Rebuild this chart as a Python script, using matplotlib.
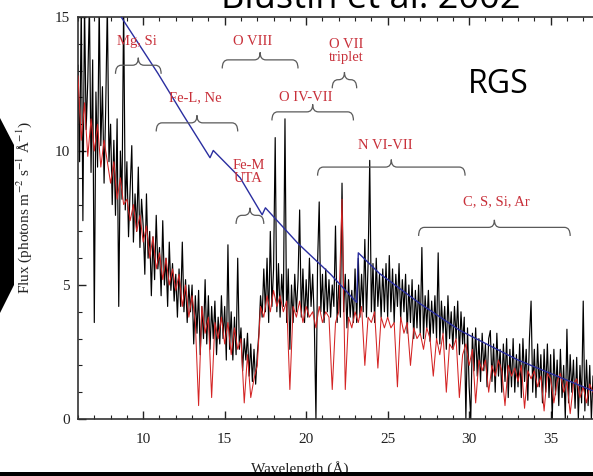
import numpy as np
import matplotlib
matplotlib.use("Agg")
from matplotlib import pyplot as plt
from matplotlib.path import Path
from matplotlib.patches import PathPatch, Polygon, Rectangle
from matplotlib.ticker import MultipleLocator

plt.rcParams['font.family'] = ['Liberation Serif', 'DejaVu Serif']
plt.rcParams['mathtext.fontset'] = 'stix'

# RGS fluxed spectrum, 0.1 A bins from 6.0 A
flux_obs = [
    13.2, 9.6, 15.5, 7.4, 15.5, 10.8, 12.6, 15.5, 9.2, 13.4,
    3.6, 12.2, 9.4, 15.5, 10.2, 12.4, 8.8, 11.6, 15.5, 9.6,
    11.0, 8.0, 10.4, 7.6, 11.2, 4.2, 10.0, 8.2, 15.5, 7.8,
    9.6, 6.8, 8.6, 10.2, 6.6, 8.4, 7.0, 9.4, 6.4, 8.2,
    7.2, 5.4, 8.4, 6.0, 7.0, 4.6, 6.8, 5.2, 7.6, 5.6,
    6.4, 4.6, 7.4, 5.0, 6.0, 4.2, 6.6, 4.8, 5.8, 4.4,
    5.4, 3.8, 5.6, 4.2, 6.6, 4.0, 5.2, 3.6, 5.0, 4.0,
    5.0, 2.8, 4.6, 3.2, 4.8, 2.4, 4.2, 3.0, 5.2, 2.8,
    4.6, 2.6, 4.2, 3.0, 4.4, 2.4, 3.8, 2.8, 4.6, 3.0,
    4.2, 2.2, 6.5, 2.6, 4.0, 2.2, 3.8, 2.4, 6.0, 2.6,
    3.4, 1.8, 3.0, 2.2, 3.2, 1.6, 2.8, 1.4, 2.6, 1.3,
    2.4, 3.2, 4.6, 3.8, 5.6, 4.0, 6.0, 3.6, 7.0, 4.2,
    5.6, 10.5, 4.0, 5.8, 3.8, 5.4, 4.2, 11.2, 3.6, 5.6,
    2.6, 5.0, 3.6, 5.4, 4.0, 5.2, 7.8, 3.8, 5.6, 3.6,
    5.2, 3.8, 6.0, 4.2, 5.4, 3.6, 0.0, 5.8, 8.1, 4.0,
    5.4, 3.6, 5.6, 4.0, 5.2, 3.8, 5.0, 4.2, 7.2, 3.6,
    5.0, 3.8, 8.8, 4.0, 5.4, 3.4, 5.2, 3.8, 4.8, 3.6,
    5.6, 3.6, 6.0, 3.8, 5.4, 4.0, 6.7, 3.8, 5.8, 9.65,
    4.0, 5.8, 3.6, 6.0, 4.2, 5.4, 3.8, 5.6, 4.0, 5.8,
    3.8, 6.1, 4.0, 5.6, 3.6, 5.4, 4.2, 5.8, 3.7, 5.2,
    4.0, 5.4, 3.2, 5.0, 3.6, 5.2, 3.0, 4.8, 3.4, 5.0,
    3.2, 6.4, 3.0, 4.6, 3.4, 4.8, 2.9, 4.4, 3.2, 4.6,
    3.0, 6.2, 2.8, 4.4, 3.2, 4.2, 2.6, 4.6, 3.0, 4.0,
    2.6, 4.2, 3.0, 4.4, 2.4, 4.0, 2.8, 3.8, 0.0, 3.4,
    1.2, 0.0, 3.2, 1.8, 3.4, 1.6, 3.0, 1.4, 3.2, 1.8,
    2.8, 1.2, 3.0, 3.3, 1.4, 2.8, 1.0, 3.2, 1.6, 2.6,
    1.0, 2.8, 1.4, 3.0, 0.8, 2.6, 1.2, 3.0, 1.0, 2.4,
    1.2, 2.8, 0.8, 3.0, 1.4, 2.6, 0.7, 3.0, 4.4, 1.0,
    2.6, 0.8, 2.8, 1.2, 2.4, 0.6, 2.6, 1.0, 2.8, 0.8,
    2.4, 0.0, 2.6, 0.9, 2.2, 0.5, 2.6, 0.8, 2.0, 0.0,
    3.35, 0.6, 2.4, 1.0, 2.2, 0.4, 2.3, 0.0, 2.0, 0.6,
    4.4, 0.3, 2.2, 0.5, 2.0, 0.0, 1.6,
]

# best-fit model, 0.2 A bins from 6.0 A
flux_model = [
    12.8, 10.4, 11.8, 9.8, 11.2,
    10.0, 11.0, 9.4, 10.4, 9.6,
    8.8, 9.6, 8.2, 9.0, 8.0,
    8.2, 7.4, 8.0, 7.0, 7.6,
    6.6, 7.2, 6.0, 6.8, 5.6,
    6.2, 5.2, 6.0, 5.0, 5.6,
    4.8, 5.4, 4.2, 5.0, 3.8,
    4.6, 3.6, 0.5, 4.2, 3.2,
    3.8, 0.8, 3.6, 3.0, 3.8,
    2.8, 3.6, 2.4, 3.4, 2.6,
    3.0, 0.6, 2.4, 0.8, 1.5,
    2.0, 4.2, 3.8, 4.6, 4.0,
    4.8, 4.2, 4.6, 4.0, 4.4,
    1.1, 4.2, 3.8, 4.4, 3.6,
    4.2, 3.8, 4.0, 3.4, 4.2,
    3.6, 4.0, 3.8, 1.1, 3.6,
    4.0, 8.2, 1.1, 3.8, 3.4,
    4.0, 3.6, 4.2, 2.0, 3.8,
    3.6, 4.0, 1.9, 3.8, 3.4,
    3.8, 3.4, 3.6, 1.2, 3.8,
    3.2, 3.6, 2.0, 3.4, 3.0,
    3.2, 2.6, 3.4, 3.0, 1.6,
    3.0, 2.4, 3.2, 1.0, 2.8,
    2.6, 3.0, 0.8, 2.4, 2.8,
    2.0, 2.6, 0.6, 2.2, 1.8,
    2.2, 1.0, 2.0, 1.6, 2.2,
    1.8, 0.5, 2.0, 1.6, 1.9,
    1.4, 2.0, 0.4, 1.8, 1.5,
    1.8, 1.2, 1.6, 0.3, 1.7,
    1.5, 0.6, 1.4, 1.7, 1.0,
    1.4, 0.2, 1.3, 1.5, 0.8,
    1.2, 0.6, 1.3, 1.0,
]

# unabsorbed continuum
cont_wl = [8.65, 10.9, 12.45, 14.1, 14.3, 15.95, 17.3, 17.5, 19.5, 21.5,
           23.1, 23.2, 24.5, 27.0, 29.45, 33.0, 37.6]
cont_flux = [15.0, 12.9, 11.35, 9.75, 10.02, 9.0, 7.62, 7.88, 6.55, 5.4,
             4.35, 6.2, 5.43, 4.3, 3.3, 2.2, 1.05]

# line groups: label, x of label, y of label, brace start, brace end, brace height
groups = [
    ("Mg, Si", 9.6, 14.1, 8.3, 11.1, 13.2),
    ("O VIII", 16.7, 14.1, 14.85, 19.5, 13.4),
    ("O VII\ntriplet", 22.45, 13.75, 21.6, 23.1, 12.66),
    ("Fe-L, Ne", 13.2, 12.0, 10.8, 15.8, 11.05),
    ("O IV-VII", 20.0, 12.0, 17.9, 22.9, 11.46),
    ("Fe-M\nUTA", 16.45, 9.2, 15.7, 17.4, 7.6),
    ("N VI-VII", 24.85, 10.2, 20.7, 29.75, 9.4),
    ("C, S, Si, Ar", 31.7, 8.1, 26.9, 36.2, 7.15),
]

wl_obs = 6.0 + 0.1 * np.arange(len(flux_obs))
wl_model = 6.0 + 0.2 * np.arange(len(flux_model))


def brace(ax, x0, x1, y, up=0.28, down=0.32, curl=0.35):
    xm = 0.5 * (x0 + x1)
    verts = [(x0, y - down), (x0, y), (x0 + curl, y),
             (xm - curl, y), (xm, y), (xm, y + up),
             (xm, y), (xm + curl, y),
             (x1 - curl, y), (x1, y), (x1, y - down)]
    codes = [Path.MOVETO, Path.CURVE3, Path.CURVE3,
             Path.LINETO, Path.CURVE3, Path.CURVE3,
             Path.CURVE3, Path.CURVE3,
             Path.LINETO, Path.CURVE3, Path.CURVE3]
    ax.add_patch(PathPatch(Path(verts, codes), fc='none', ec='#5a5a5a',
                           lw=0.9, zorder=4))


W, H = 593, 476
fig = plt.figure(figsize=(W / 100, H / 100), dpi=100)
ax = fig.add_axes([78 / W, (H - 419) / H, 1 - 78 / W, (419 - 17) / H])

ax.plot(wl_obs, flux_obs, color='black', lw=0.85, zorder=2)
ax.plot(wl_model, flux_model, color='#d42424', lw=0.75, zorder=3)
ax.plot(cont_wl, cont_flux, color='#2a2ea0', lw=1.0, zorder=3)

for label, tx, ty, b0, b1, by in groups:
    ax.text(tx, ty, label, color='#c8303a', fontsize=10.5, ha='center',
            va='center', linespacing=1.0, zorder=5)
    brace(ax, b0, b1, by)

ax.set_xlim(6.0, 37.6)
ax.set_ylim(0, 15)
ax.set_xticks([10, 15, 20, 25, 30, 35])
ax.set_yticks([0, 5, 10, 15])
ax.xaxis.set_minor_locator(MultipleLocator(1))
ax.yaxis.set_minor_locator(MultipleLocator(1))
ax.tick_params(which='both', direction='in', top=True, right=False,
               labelsize=11, colors='#222222')
ax.tick_params(which='major', length=6, width=1.0)
ax.tick_params(which='minor', length=3, width=0.8)
ax.tick_params(axis='x', pad=10)
ax.tick_params(axis='y', pad=6)
ax.spines['right'].set_visible(False)
for s in ['left', 'top', 'bottom']:
    ax.spines[s].set_color('#333333')
    ax.spines[s].set_linewidth(1.2)

fig.text(24 / W, 1 - 208 / H, 'Flux (photons m$^{-2}$ s$^{-1}$ Å$^{-1}$)',
         rotation=90, ha='center', va='center', fontsize=11, color='#222222')
fig.text(300 / W, 3 / H, 'Wavelength (Å)', ha='center', va='baseline',
         fontsize=11, color='#222222')

# slide decorations
fig.text(371 / W, 1 - 8 / H, 'Blustin et al. 2002', ha='center',
         va='baseline', fontsize=26, family='Open Sans', color='black')
fig.text(498 / W, 1 - 84.5 / H, 'RGS', ha='center', va='center',
         fontsize=23, family='Open Sans', color='black')
fig.patches.append(Polygon([(0, 1 - 118 / H), (14 / W, 1 - 145 / H),
                            (14 / W, 1 - 285 / H), (0, 1 - 313 / H)],
                           closed=True, fc='black', ec='none',
                           transform=fig.transFigure, figure=fig))
fig.patches.append(Rectangle((0, 0), 1, 4 / H, fc='black', ec='none',
                             transform=fig.transFigure, figure=fig, zorder=10))

fig.savefig('out.png', dpi=100)
